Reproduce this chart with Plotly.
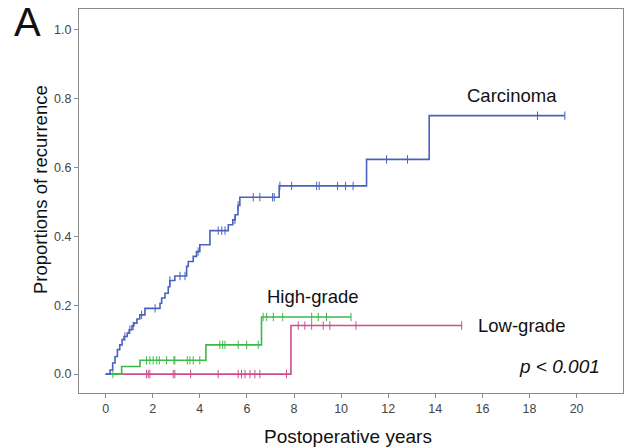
import plotly.graph_objects as go

# ---- data ----
carc_t = [0.0, 0.19, 0.30, 0.40, 0.50, 0.60, 0.70, 0.78, 0.92, 1.00, 1.12, 1.20, 1.33, 1.45, 1.67,
          2.31, 2.38, 2.52, 2.66, 2.73, 2.94, 3.44, 3.51, 3.72, 3.86, 4.00, 4.43, 5.21, 5.40,
          5.50, 5.62, 5.70, 7.37, 11.08, 13.74, 19.5]
carc_p = [0.0, 0.012, 0.032, 0.051, 0.071, 0.085, 0.100, 0.109, 0.119, 0.129, 0.140, 0.148, 0.160,
          0.172, 0.191, 0.206, 0.221, 0.235, 0.254, 0.272, 0.285, 0.313, 0.327, 0.342, 0.356,
          0.376, 0.417, 0.434, 0.448, 0.463, 0.490, 0.514, 0.547, 0.624, 0.751, 0.751]
carc_cens = [0.82, 1.03, 1.17, 1.53, 2.10, 2.73, 3.16, 3.37, 3.93, 4.78, 4.93, 5.07, 5.49, 5.63,
             6.27, 6.55, 7.09, 7.16, 7.40, 7.90, 8.96, 9.07, 9.85, 10.19, 10.51, 11.93, 12.82,
             18.34, 19.5]

high_t = [0.0, 0.68, 1.46, 4.26, 6.62, 10.42]
high_p = [0.0, 0.022, 0.040, 0.085, 0.166, 0.166]
high_cens = [0.31, 1.74, 1.88, 2.02, 2.17, 2.28, 2.59, 2.90, 2.94, 3.47, 3.58, 3.72, 4.00,
             4.85, 4.97, 5.07, 5.63, 5.99, 6.48, 6.69, 6.84, 7.12, 7.52, 8.75, 9.03, 9.38, 10.42]

low_t = [0.0, 7.87, 15.12]
low_p = [0.0, 0.141, 0.141]
low_cens = [1.74, 1.81, 1.88, 2.87, 2.94, 3.61, 4.78, 5.63, 5.77, 5.92, 6.13, 6.34, 6.55, 7.68,
            8.18, 8.46, 8.75, 9.24, 9.52, 10.63, 15.12]

x_ticks = [0, 2, 4, 6, 8, 10, 12, 14, 16, 18, 20]
y_ticks = [0.0, 0.2, 0.4, 0.6, 0.8, 1.0]

BLUE = "#4a62be"
GREEN = "#3db84b"
PINK = "#cf4c8e"
FONT = "Liberation Sans, Arial, sans-serif"


def step_value(ts, ps, t):
    v = ps[0]
    for ti, pi in zip(ts, ps):
        if ti <= t:
            v = pi
    return v


fig = go.Figure()
for ts, ps, cens, col, name in [(low_t, low_p, low_cens, PINK, "Low-grade"),
                                (high_t, high_p, high_cens, GREEN, "High-grade"),
                                (carc_t, carc_p, carc_cens, BLUE, "Carcinoma")]:
    fig.add_trace(go.Scatter(x=ts, y=ps, mode="lines", line=dict(color=col, width=1.6, shape="hv"),
                             name=name, showlegend=False))
    fig.add_trace(go.Scatter(x=cens, y=[step_value(ts, ps, c) for c in cens], mode="markers",
                             marker=dict(symbol="line-ns", size=6, line=dict(color=col, width=1)),
                             showlegend=False))

axis_common = dict(showgrid=False, zeroline=False, showline=True, linecolor="#8a8a8a", linewidth=1,
                   mirror=True, ticks="outside", ticklen=4, tickcolor="#8a8a8a",
                   tickfont=dict(family=FONT, size=12.5, color="#444444"))

fig.update_layout(
    width=625, height=448,
    margin=dict(l=79, r=2, t=9, b=55),
    paper_bgcolor="white", plot_bgcolor="white",
    xaxis=dict(range=[-1.13, 21.97], tickvals=x_ticks, ticktext=[str(v) for v in x_ticks], **axis_common),
    yaxis=dict(range=[-0.055, 1.061], tickvals=y_ticks, ticktext=[f"{v:.1f}" for v in y_ticks], **axis_common),
    font=dict(family=FONT),
)

ann = [
    dict(text="A", x=27, y=22, size=40),
    dict(text="Carcinoma", x=512, y=95, size=18.5),
    dict(text="High-grade", x=313, y=296, size=18.5),
    dict(text="Low-grade", x=521, y=325, size=18.5),
    dict(text="<i>p < 0.001</i>", x=559, y=366, size=19),
    dict(text="Postoperative years", x=348, y=436, size=19),
]
for a in ann:
    fig.add_annotation(text=a["text"], xref="paper", yref="paper",
                       x=(a["x"] - 79) / 544,
                       y=(448 - 55 - a["y"]) / 384,
                       xanchor="center", yanchor="middle", showarrow=False,
                       font=dict(family=FONT, size=a["size"], color="#111111"))
fig.add_annotation(text="Proportions of recurrence", xref="paper", yref="paper",
                   x=(40 - 79) / 544, y=(448 - 55 - 190) / 384, textangle=-90,
                   xanchor="center", yanchor="middle", showarrow=False,
                   font=dict(family=FONT, size=18.5, color="#111111"))

fig.write_html("out.html", config={"displayModeBar": False},
               post_script="document.body.style.margin='0';document.body.style.padding='0';"
                           "document.body.style.overflow='hidden';")
